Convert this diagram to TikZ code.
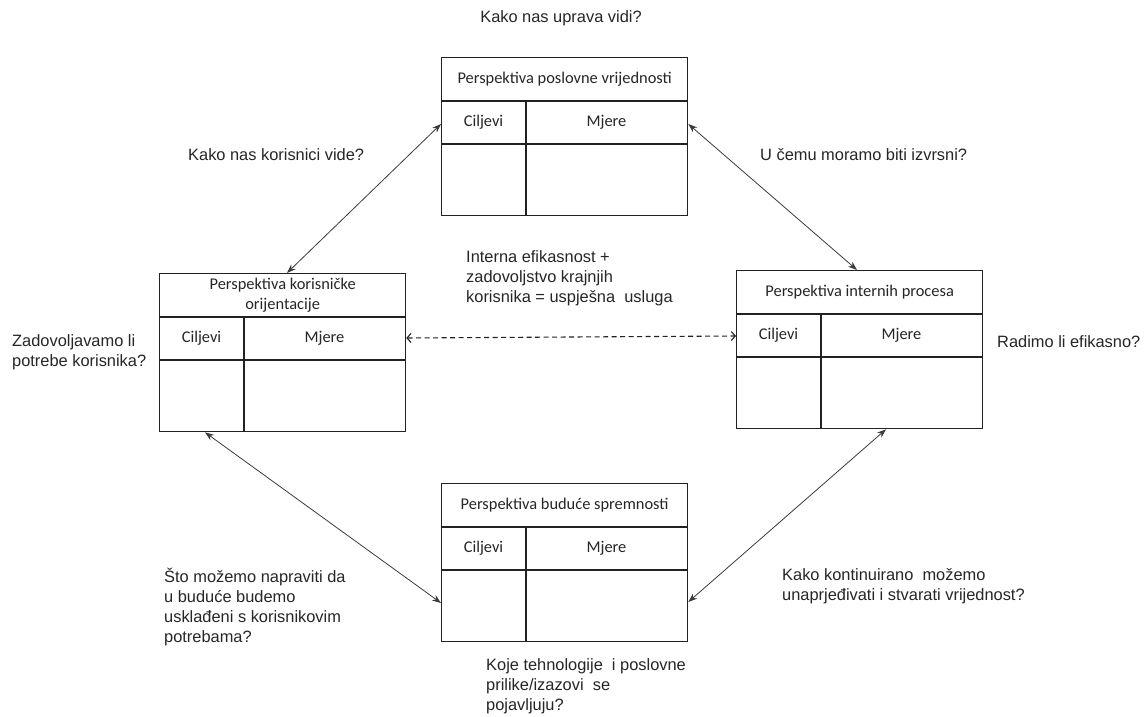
\documentclass[tikz,border=0pt]{standalone}
\usepackage{fontspec}
\setmainfont{Liberation Sans}
\newfontfamily\boxfont{Carlito}
\usetikzlibrary{arrows.meta}
\definecolor{ink}{HTML}{222222}
\definecolor{txt}{HTML}{262626}
\definecolor{arr}{HTML}{3C3C3C}
\newcommand\perspbox[4]{%
  \node[frame] (#1) at (#2) {};
  \draw[sep] ([yshift=-44pt]#1.north west) -- ([yshift=-44pt]#1.north east);
  \draw[sep, line width=#4] ([yshift=-87pt]#1.north west) -- ([yshift=-87pt]#1.north east);
  \draw[sep] ([xshift=85pt,yshift=-44pt]#1.north west) -- ([xshift=85pt]#1.south west);
  \node[boxtxt] (#1-t) at ([yshift=-22pt]#1.north) {#3};
  \node[boxtxt] (#1-c) at ([xshift=42.5pt,yshift=-65.5pt]#1.north west) {Ciljevi};
  \node[boxtxt] (#1-m) at ([xshift=165.5pt,yshift=-65.5pt]#1.north west) {Mjere};
}
\begin{document}
\begin{tikzpicture}[x=1pt,y=-1pt,
  frame/.style={draw=ink, line width=1.3pt, minimum width=246pt, minimum height=158pt, anchor=north west, inner sep=0pt},
  sep/.style={draw=ink, line width=1.3pt},
  boxtxt/.style={font=\boxfont\fontsize{16.4}{20}\selectfont, text=txt, align=center, inner sep=0pt},
  outtxt/.style={font=\fontsize{16.4}{20}\selectfont, text=txt, align=left, inner sep=0pt, anchor=west},
  link/.style={draw=arr, line width=0.8pt, {Stealth[length=9pt,width=6.5pt]}-{Stealth[length=9pt,width=6.5pt]}},
  dlink/.style={draw=ink, line width=1.1pt, dash pattern=on 5pt off 3.5pt, {Straight Barb[length=4pt,width=9pt]}-{Straight Barb[length=4pt,width=9pt]}}
]
\fill[white] (0,0) rectangle (1146,717);
\useasboundingbox (0,0) rectangle (1146,717);

\perspbox{T}{441,57}{Perspektiva poslovne vrijednosti}{2pt}
\perspbox{L}{159,273}{Perspektiva korisničke\\orijentacije}{2pt}
\perspbox{R}{736,270}{Perspektiva internih procesa}{1.3pt}
\perspbox{B}{441,483}{Perspektiva buduće spremnosti}{1.3pt}

\coordinate (tl1) at ([yshift=-67pt]T.north west);
\coordinate (tl2) at ([xshift=128pt]L.north west);
\coordinate (tr1) at ([yshift=-67pt]T.north east);
\coordinate (tr2) at ([xshift=121pt]R.north west);
\coordinate (bl1) at ([xshift=46pt]L.south west);
\coordinate (bl2) at ([yshift=-120pt]B.north west);
\coordinate (br1) at ([xshift=150pt]R.south west);
\coordinate (br2) at ([yshift=-119pt]B.north east);
\coordinate (d1) at ([yshift=-65pt]L.north east);
\coordinate (d2) at ([yshift=-66pt]R.north west);

\draw[link] (tl1) -- (tl2);
\draw[link] (tr1) -- (tr2);
\draw[link] (bl1) -- (bl2);
\draw[link] (br1) -- (br2);
\draw[dlink] (d1) -- (d2);

\node[outtxt, anchor=center] (qtop) at (561,18) {Kako nas uprava vidi?};
\node[outtxt] (qtl) at (188,155) {Kako nas korisnici vide?};
\node[outtxt] (qtr) at (760,155) {U čemu moramo biti izvrsni?};
\node[outtxt] (qmid) at (466,278) {Interna efikasnost +\\zadovoljstvo krajnjih\\korisnika = uspješna\ \ usluga};
\node[outtxt] (ql) at (12,352) {Zadovoljavamo li\\potrebe korisnika?};
\node[outtxt] (qr) at (997,342) {Radimo li efikasno?};
\node[outtxt] (qbl) at (164,607) {Što možemo napraviti da\\u buduće budemo\\usklađeni s korisnikovim\\potrebama?};
\node[outtxt] (qbr) at (782,586) {Kako kontinuirano\ \ možemo\\unaprjeđivati i stvarati vrijednost?};
\node[outtxt] (qb) at (486,686) {Koje tehnologije\ \ i poslovne\\prilike/izazovi\ \ se\\pojavljuju?};
\end{tikzpicture}
\end{document}
